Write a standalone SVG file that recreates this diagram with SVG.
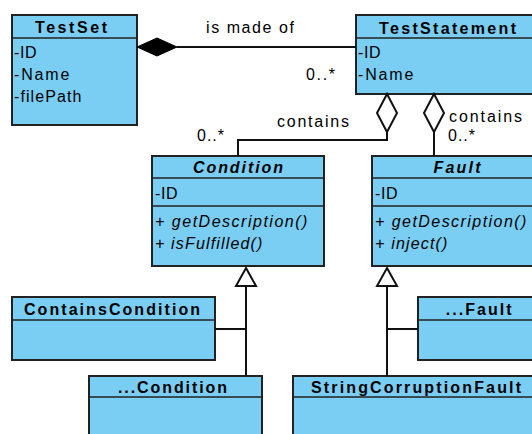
<svg xmlns="http://www.w3.org/2000/svg" width="532" height="434" viewBox="0 0 532 434">
<style>
.box{fill:#7acdf3;stroke:#222;stroke-width:2}
.sep{stroke:#222;stroke-width:1.6;fill:none}
.t{font-family:"Liberation Sans",Arial,sans-serif;font-size:16px;font-weight:bold;fill:#000;text-anchor:middle}
.ti{font-style:italic}
.a{font-family:"Liberation Sans",Arial,sans-serif;font-size:16px;fill:#000;letter-spacing:0.6px}
.m{font-style:italic}
.l{font-family:"Liberation Sans",Arial,sans-serif;font-size:16px;fill:#000}
.c{stroke:#111;stroke-width:2;fill:none}
</style>
<rect width="532" height="434" fill="#fff"/>
<g id="TestSet">
<rect class="box" x="12" y="15" width="125" height="110"/>
<line class="sep" x1="12" y1="38" x2="137" y2="38"/>
<text class="t" x="71" y="33" textLength="72">TestSet</text>
<text class="a" x="14" y="57.5">-ID</text>
<text class="a" x="14" y="79.5" textLength="56">-Name</text>
<text class="a" x="14" y="101.5" textLength="68">-filePath</text>
</g>
<g id="TestStatement">
<rect class="box" x="356" y="15" width="184" height="79"/>
<line class="sep" x1="356" y1="38" x2="540" y2="38"/>
<text class="t" x="447.5" y="34" textLength="137">TestStatement</text>
<text class="a" x="358" y="57.5">-ID</text>
<text class="a" x="358" y="80" textLength="56">-Name</text>
</g>
<g id="Condition">
<rect class="box" x="152" y="156" width="172" height="110"/>
<line class="sep" x1="152" y1="178" x2="324" y2="178"/>
<line class="sep" x1="152" y1="206" x2="324" y2="206"/>
<text class="t ti" x="238" y="173" textLength="90">Condition</text>
<text class="a" x="155" y="198.5">-ID</text>
<text class="a m" x="155" y="227" textLength="153">+ getDescription()</text>
<text class="a m" x="155" y="249" textLength="108">+ isFulfilled()</text>
</g>
<g id="Fault">
<rect class="box" x="372" y="156" width="168" height="110"/>
<line class="sep" x1="372" y1="178" x2="540" y2="178"/>
<line class="sep" x1="372" y1="206" x2="540" y2="206"/>
<text class="t ti" x="457" y="173" textLength="47">Fault</text>
<text class="a" x="375" y="198.5">-ID</text>
<text class="a m" x="375" y="227" textLength="152">+ getDescription()</text>
<text class="a m" x="375" y="249" textLength="73">+ inject()</text>
</g>
<g id="ContainsCondition">
<rect class="box" x="12" y="297" width="203" height="63"/>
<line class="sep" x1="12" y1="320" x2="215" y2="320"/>
<text class="t" x="112" y="315" textLength="176">ContainsCondition</text>
</g>
<g id="OtherCondition">
<rect class="box" x="89" y="376" width="173" height="70"/>
<line class="sep" x1="89" y1="397" x2="262" y2="397"/>
<text class="t" x="172.5" y="393" textLength="109">...Condition</text>
</g>
<g id="OtherFault">
<rect class="box" x="418" y="297" width="122" height="63"/>
<line class="sep" x1="418" y1="320" x2="540" y2="320"/>
<text class="t" x="478.7" y="315" textLength="66">...Fault</text>
</g>
<g id="StringCorruptionFault">
<rect class="box" x="293" y="376" width="247" height="70"/>
<line class="sep" x1="293" y1="397" x2="540" y2="397"/>
<text class="t" x="416" y="393" textLength="210">StringCorruptionFault</text>
</g>
<g id="connectors">
<path class="c" d="M177 47 H356"/>
<polygon points="137,47 157,38 177,47 157,56" fill="#000" stroke="#000" stroke-width="1"/>
<path class="c" d="M387 132 V140 H238 V156"/>
<polygon points="387,94 397,113 387,132 377,113" fill="#fff" stroke="#111" stroke-width="2"/>
<path class="c" d="M434 132 V156"/>
<polygon points="434,94 444,113 434,132 424,113" fill="#fff" stroke="#111" stroke-width="2"/>
<path class="c" d="M246 286 V376 M215 329 H246"/>
<polygon points="246,268 256,286 236,286" fill="#fff" stroke="#111" stroke-width="2"/>
<path class="c" d="M387 286 V376 M387 329 H418"/>
<polygon points="387,268 397,286 377,286" fill="#fff" stroke="#111" stroke-width="2"/>
<text class="l" x="206" y="33" textLength="88">is made of</text>
<text class="l" x="306" y="80" textLength="29">0..*</text>
<text class="l" x="277" y="127" textLength="72">contains</text>
<text class="l" x="197" y="141" textLength="27">0..*</text>
<text class="l" x="449" y="122" textLength="73">contains</text>
<text class="l" x="448" y="141" textLength="27">0..*</text>
</g>
</svg>
